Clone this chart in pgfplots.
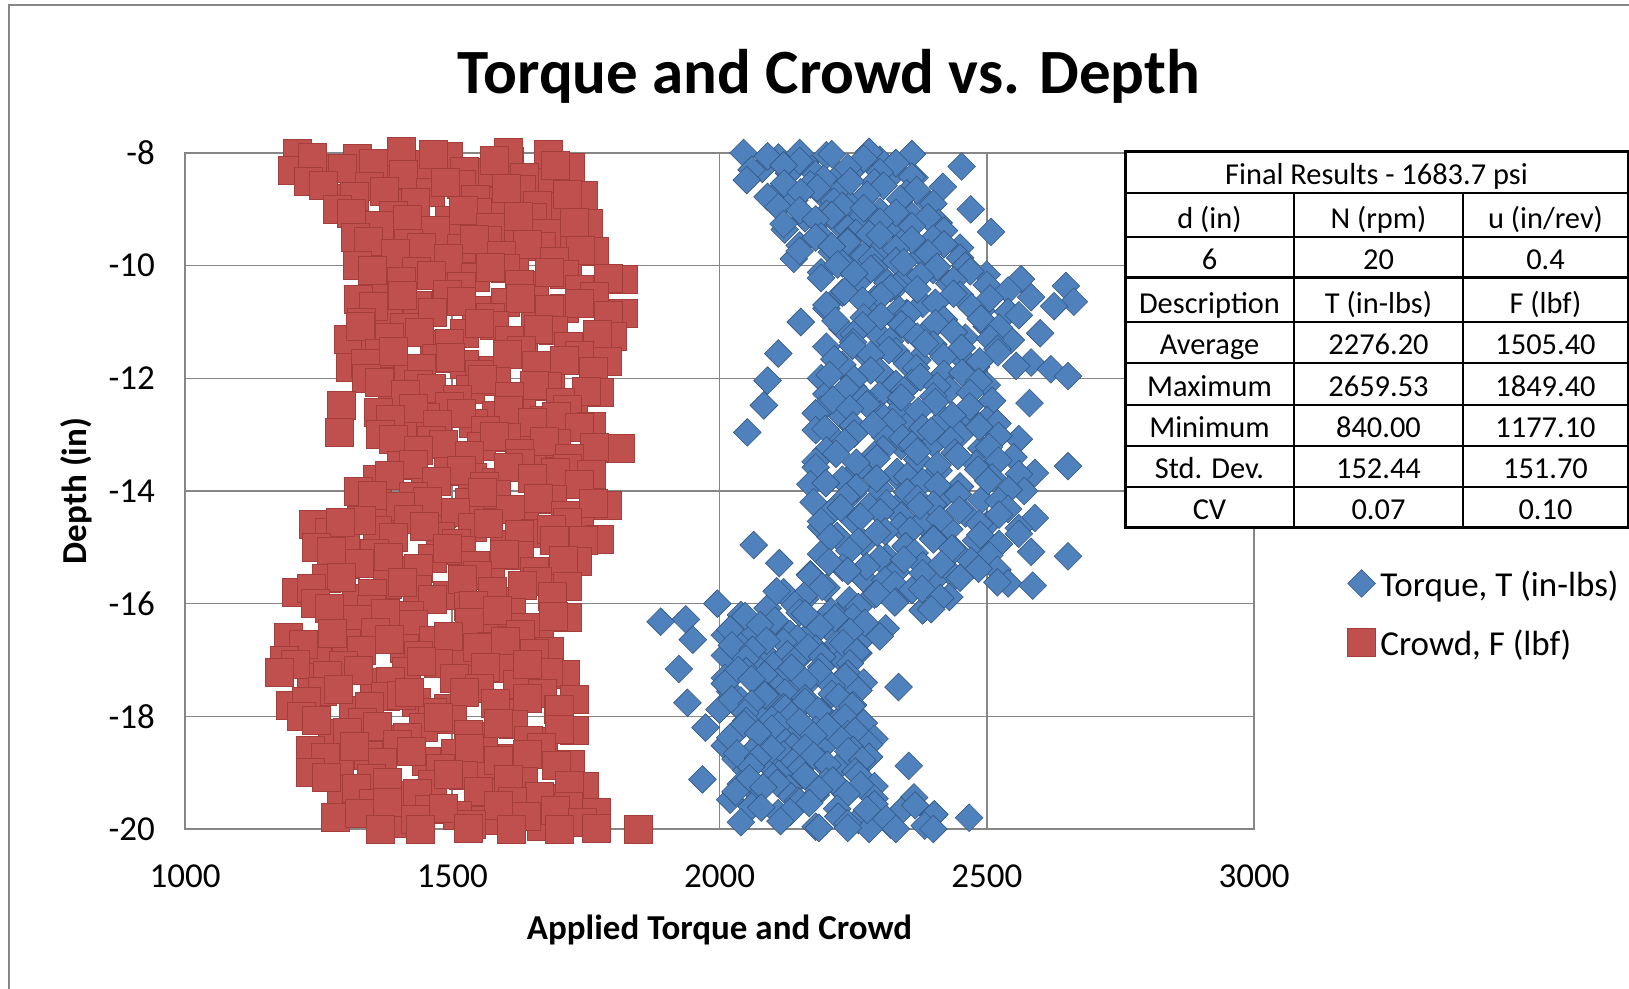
\documentclass[border=0pt]{standalone}
\usepackage{fontspec}
\setmainfont{Carlito}
\usepackage{pgfplots}
\usepackage{pgfplotstable}
\pgfplotsset{compat=1.18}
\definecolor{gridgray}{RGB}{134,134,134}
\definecolor{tblue}{RGB}{79,129,189}
\definecolor{tbluedk}{RGB}{52,88,132}
\definecolor{cred}{RGB}{192,80,77}
\definecolor{creddk}{RGB}{165,62,59}

% Crowd F (lbf) vs depth (in)
\pgfplotstableread[row sep=\\]{
x y\\
1210 -8.00\\ 1493 -8.05\\ 1323 -8.10\\ 1607 -8.15\\ 1437 -8.20\\ 1720 -8.25\\ 1200 -8.30\\ 1550 -8.35\\ 1380 -8.40\\ 1663 -8.45\\
1405 -7.97\\ 1605 -7.98\\ 1680 -8.03\\ 1267 -8.28\\
1465 -8.025\\ 1238 -8.075\\ 1578 -8.125\\ 1352 -8.175\\ 1692 -8.225\\ 1295 -8.275\\ 1522 -8.325\\ 1408 -8.375\\ 1635 -8.425\\
1230 -8.50\\ 1516 -8.55\\ 1344 -8.60\\ 1630 -8.65\\ 1459 -8.70\\ 1745 -8.75\\ 1287 -8.80\\ 1573 -8.85\\ 1402 -8.90\\ 1688 -8.95\\
1487 -8.525\\ 1258 -8.575\\ 1601 -8.625\\ 1373 -8.675\\ 1716 -8.725\\ 1316 -8.775\\ 1544 -8.825\\ 1430 -8.875\\ 1659 -8.925\\
1285 -9.00\\ 1546 -9.05\\ 1389 -9.10\\ 1650 -9.15\\ 1494 -9.20\\ 1755 -9.25\\ 1337 -9.30\\ 1598 -9.35\\ 1442 -9.40\\ 1703 -9.45\\
1520 -9.025\\ 1311 -9.075\\ 1624 -9.125\\ 1415 -9.175\\ 1729 -9.225\\ 1363 -9.275\\ 1572 -9.325\\ 1468 -9.375\\ 1676 -9.425\\
1318 -9.50\\ 1566 -9.55\\ 1417 -9.60\\ 1666 -9.65\\ 1517 -9.70\\ 1765 -9.75\\ 1368 -9.80\\ 1616 -9.85\\ 1467 -9.90\\ 1715 -9.95\\
1542 -9.525\\ 1343 -9.575\\ 1641 -9.625\\ 1442 -9.675\\ 1740 -9.725\\ 1393 -9.775\\ 1591 -9.825\\ 1492 -9.875\\ 1691 -9.925\\
1322 -10.00\\ 1599 -10.05\\ 1433 -10.10\\ 1709 -10.15\\ 1543 -10.20\\ 1820 -10.25\\ 1377 -10.30\\ 1654 -10.35\\ 1488 -10.40\\ 1765 -10.45\\
1571 -10.025\\ 1350 -10.075\\ 1682 -10.125\\ 1460 -10.175\\ 1792 -10.225\\ 1405 -10.275\\ 1626 -10.325\\ 1516 -10.375\\ 1737 -10.425\\
1490 -10.50\\ 1765 -10.55\\ 1325 -10.60\\ 1600 -10.65\\ 1435 -10.70\\ 1710 -10.75\\ 1545 -10.80\\ 1820 -10.85\\ 1380 -10.90\\ 1655 -10.95\\
1407 -10.525\\ 1627 -10.575\\ 1517 -10.625\\ 1737 -10.675\\ 1352 -10.725\\ 1682 -10.775\\ 1462 -10.825\\ 1792 -10.875\\ 1572 -10.925\\
1330 -11.00\\ 1578 -11.05\\ 1411 -11.10\\ 1689 -11.15\\ 1522 -11.20\\ 1800 -11.25\\ 1305 -11.30\\ 1633 -11.35\\ 1467 -11.40\\ 1744 -11.45\\ 1356 -11.42\\
1550 -11.025\\ 1328 -11.075\\ 1661 -11.125\\ 1439 -11.175\\ 1772 -11.225\\ 1383 -11.275\\ 1606 -11.325\\ 1494 -11.375\\ 1717 -11.425\\
1630 -11.50\\ 1363 -11.55\\ 1737 -11.60\\ 1470 -11.65\\ 1790 -11.70\\ 1523 -11.75\\ 1310 -11.80\\ 1577 -11.85\\ 1417 -11.90\\ 1683 -11.95\\
1390 -11.525\\ 1603 -11.575\\ 1497 -11.625\\ 1710 -11.675\\ 1337 -11.725\\ 1657 -11.775\\ 1443 -11.825\\ 1763 -11.875\\ 1550 -11.925\\
1340 -12.00\\ 1582 -12.05\\ 1437 -12.10\\ 1678 -12.15\\ 1533 -12.20\\ 1775 -12.25\\ 1388 -12.30\\ 1630 -12.35\\ 1485 -12.40\\ 1727 -12.45\\
1557 -12.025\\ 1364 -12.075\\ 1654 -12.125\\ 1461 -12.175\\ 1751 -12.225\\ 1412 -12.275\\ 1606 -12.325\\ 1509 -12.375\\ 1703 -12.425\\
1495 -12.50\\ 1716 -12.55\\ 1362 -12.60\\ 1583 -12.65\\ 1450 -12.70\\ 1672 -12.75\\ 1539 -12.80\\ 1760 -12.85\\ 1406 -12.90\\ 1627 -12.95\\
1428 -12.525\\ 1605 -12.575\\ 1517 -12.625\\ 1694 -12.675\\ 1384 -12.725\\ 1649 -12.775\\ 1472 -12.825\\ 1738 -12.875\\ 1561 -12.925\\
1292 -12.48\\ 1288 -12.95\\
1366 -13.00\\ 1601 -13.05\\ 1460 -13.10\\ 1695 -13.15\\ 1554 -13.20\\ 1814 -13.25\\ 1413 -13.30\\ 1648 -13.35\\ 1507 -13.40\\ 1742 -13.45\\
1578 -13.025\\ 1390 -13.075\\ 1672 -13.125\\ 1484 -13.175\\ 1766 -13.225\\ 1437 -13.275\\ 1625 -13.325\\ 1531 -13.375\\ 1719 -13.425\\
1627 -13.50\\ 1404 -13.55\\ 1716 -13.60\\ 1493 -13.65\\ 1760 -13.70\\ 1538 -13.75\\ 1360 -13.80\\ 1582 -13.85\\ 1449 -13.90\\ 1671 -13.95\\
1427 -13.525\\ 1604 -13.575\\ 1516 -13.625\\ 1693 -13.675\\ 1382 -13.725\\ 1649 -13.775\\ 1471 -13.825\\ 1738 -13.875\\ 1560 -13.925\\
1325 -14.00\\ 1583 -14.05\\ 1428 -14.10\\ 1687 -14.15\\ 1532 -14.20\\ 1790 -14.25\\ 1377 -14.30\\ 1635 -14.35\\ 1480 -14.40\\ 1738 -14.45\\
1557 -14.025\\ 1351 -14.075\\ 1661 -14.125\\ 1454 -14.175\\ 1764 -14.225\\ 1402 -14.275\\ 1609 -14.325\\ 1506 -14.375\\ 1712 -14.425\\
1418 -14.50\\ 1716 -14.55\\ 1240 -14.60\\ 1537 -14.65\\ 1359 -14.70\\ 1656 -14.75\\ 1478 -14.80\\ 1775 -14.85\\ 1299 -14.90\\ 1597 -14.95\\
1329 -14.525\\ 1567 -14.575\\ 1448 -14.625\\ 1686 -14.675\\ 1270 -14.725\\ 1626 -14.775\\ 1389 -14.825\\ 1745 -14.875\\ 1508 -14.925\\
1290 -14.55\\ 1690 -14.88\\
1246 -15.00\\ 1517 -15.05\\ 1354 -15.10\\ 1626 -15.15\\ 1463 -15.20\\ 1734 -15.25\\ 1300 -15.30\\ 1571 -15.35\\ 1409 -15.40\\ 1680 -15.45\\
1490 -15.025\\ 1273 -15.075\\ 1598 -15.125\\ 1381 -15.175\\ 1707 -15.225\\ 1327 -15.275\\ 1544 -15.325\\ 1436 -15.375\\ 1653 -15.425\\
1546 -15.50\\ 1265 -15.55\\ 1659 -15.60\\ 1378 -15.65\\ 1715 -15.70\\ 1434 -15.75\\ 1209 -15.80\\ 1490 -15.85\\ 1321 -15.90\\ 1603 -15.95\\
1293 -15.525\\ 1518 -15.575\\ 1406 -15.625\\ 1631 -15.675\\ 1237 -15.725\\ 1574 -15.775\\ 1350 -15.825\\ 1687 -15.875\\ 1462 -15.925\\
1244 -16.00\\ 1530 -16.05\\ 1349 -16.10\\ 1610 -16.15\\ 1420 -16.20\\ 1715 -16.25\\ 1296 -16.30\\ 1558 -16.35\\ 1401 -16.40\\ 1663 -16.45\\
1540 -16.025\\ 1270 -16.075\\ 1584 -16.125\\ 1375 -16.175\\ 1689 -16.225\\ 1322 -16.275\\ 1532 -16.325\\ 1427 -16.375\\ 1637 -16.425\\
1356 -16.50\\ 1627 -16.55\\ 1194 -16.60\\ 1465 -16.65\\ 1302 -16.70\\ 1573 -16.75\\ 1410 -16.80\\ 1681 -16.85\\ 1248 -16.90\\ 1519 -16.95\\
1275 -16.525\\ 1492 -16.575\\ 1383 -16.625\\ 1600 -16.675\\ 1221 -16.725\\ 1546 -16.775\\ 1329 -16.825\\ 1654 -16.875\\ 1437 -16.925\\
1185 -17.00\\ 1474 -17.05\\ 1296 -17.10\\ 1592 -17.15\\ 1414 -17.20\\ 1711 -17.25\\ 1236 -17.30\\ 1533 -17.35\\ 1355 -17.40\\ 1652 -17.45\\
1443 -17.025\\ 1207 -17.075\\ 1562 -17.125\\ 1325 -17.175\\ 1680 -17.225\\ 1266 -17.275\\ 1503 -17.325\\ 1384 -17.375\\ 1621 -17.425\\
1177 -17.22\\ 1640 -17.08\\
1551 -17.50\\ 1256 -17.55\\ 1669 -17.60\\ 1374 -17.65\\ 1728 -17.70\\ 1433 -17.75\\ 1197 -17.80\\ 1492 -17.85\\ 1315 -17.90\\ 1610 -17.95\\
1286 -17.525\\ 1522 -17.575\\ 1404 -17.625\\ 1640 -17.675\\ 1227 -17.725\\ 1581 -17.775\\ 1345 -17.825\\ 1699 -17.875\\ 1463 -17.925\\
1420 -17.58\\ 1700 -17.88\\
1218 -18.00\\ 1501 -18.05\\ 1331 -18.10\\ 1615 -18.15\\ 1445 -18.20\\ 1728 -18.25\\ 1275 -18.30\\ 1558 -18.35\\ 1388 -18.40\\ 1671 -18.45\\
1473 -18.025\\ 1246 -18.075\\ 1586 -18.125\\ 1360 -18.175\\ 1700 -18.225\\ 1303 -18.275\\ 1530 -18.325\\ 1416 -18.375\\ 1643 -18.425\\
1397 -18.50\\ 1667 -18.55\\ 1235 -18.60\\ 1505 -18.65\\ 1343 -18.70\\ 1613 -18.75\\ 1451 -18.80\\ 1721 -18.85\\ 1289 -18.90\\ 1559 -18.95\\
1316 -18.525\\ 1532 -18.575\\ 1424 -18.625\\ 1640 -18.675\\ 1262 -18.725\\ 1586 -18.775\\ 1370 -18.825\\ 1694 -18.875\\ 1478 -18.925\\
1235 -19.00\\ 1520 -19.05\\ 1349 -19.10\\ 1633 -19.15\\ 1463 -19.20\\ 1747 -19.25\\ 1292 -19.30\\ 1576 -19.35\\ 1406 -19.40\\ 1690 -19.45\\
1492 -19.025\\ 1264 -19.075\\ 1605 -19.125\\ 1378 -19.175\\ 1719 -19.225\\ 1321 -19.275\\ 1548 -19.325\\ 1435 -19.375\\ 1662 -19.425\\
1613 -19.50\\ 1352 -19.55\\ 1718 -19.60\\ 1457 -19.65\\ 1770 -19.70\\ 1509 -19.75\\ 1281 -19.80\\ 1561 -19.85\\ 1404 -19.90\\ 1666 -19.95\\
1378 -19.525\\ 1587 -19.575\\ 1483 -19.625\\ 1692 -19.675\\ 1326 -19.725\\ 1639 -19.775\\ 1430 -19.825\\ 1744 -19.875\\ 1535 -19.925\\
1365 -20.00\\ 1440 -20.00\\ 1530 -19.98\\ 1610 -20.00\\ 1700 -20.00\\ 1770 -19.98\\ 1849 -20.00\\
}\crowd

% Torque T (in-lbs) vs depth (in)
\pgfplotstableread[row sep=\\]{
x y\\
2045 -8.00\\ 2200 -8.04\\ 2110 -8.08\\ 2300 -8.12\\ 2160 -8.16\\ 2260 -8.20\\ 2453 -8.24\\ 2080 -8.28\\ 2330 -8.32\\ 2130 -8.36\\ 2225 -8.40\\ 2365 -8.44\\
2150 -8.00\\ 2280 -7.98\\ 2360 -8.02\\
2210 -8.02\\ 2090 -8.06\\ 2270 -8.10\\ 2150 -8.14\\ 2330 -8.18\\ 2120 -8.22\\ 2240 -8.26\\ 2060 -8.30\\ 2300 -8.34\\ 2180 -8.38\\ 2360 -8.42\\ 2195 -8.46\\
2051 -8.48\\ 2290 -8.52\\ 2170 -8.56\\ 2418 -8.60\\ 2230 -8.64\\ 2110 -8.68\\ 2350 -8.72\\ 2195 -8.76\\ 2270 -8.80\\ 2140 -8.84\\ 2390 -8.88\\ 2245 -8.92\\
2245 -8.50\\ 2121 -8.54\\ 2307 -8.58\\ 2183 -8.62\\ 2369 -8.66\\ 2152 -8.70\\ 2276 -8.74\\ 2090 -8.78\\ 2338 -8.82\\ 2214 -8.86\\ 2400 -8.90\\ 2230 -8.94\\
2110 -8.96\\ 2470 -9.00\\ 2300 -9.04\\ 2200 -9.08\\ 2360 -9.12\\ 2160 -9.16\\ 2260 -9.20\\ 2410 -9.24\\ 2225 -9.28\\ 2330 -9.32\\ 2122 -9.36\\ 2508 -9.40\\
2270 -8.98\\ 2150 -9.02\\ 2330 -9.06\\ 2210 -9.10\\ 2390 -9.14\\ 2180 -9.18\\ 2300 -9.22\\ 2120 -9.26\\ 2360 -9.30\\ 2240 -9.34\\ 2420 -9.38\\ 2255 -9.42\\
2280 -9.44\\ 2190 -9.48\\ 2400 -9.52\\ 2240 -9.56\\ 2340 -9.60\\ 2150 -9.64\\ 2450 -9.68\\ 2300 -9.72\\ 2210 -9.76\\ 2380 -9.80\\ 2260 -9.84\\ 2139 -9.88\\
2300 -9.46\\ 2180 -9.50\\ 2360 -9.54\\ 2240 -9.58\\ 2420 -9.62\\ 2210 -9.66\\ 2330 -9.70\\ 2150 -9.74\\ 2390 -9.78\\ 2270 -9.82\\ 2450 -9.86\\ 2285 -9.90\\
2330 -9.92\\ 2230 -9.96\\ 2460 -10.00\\ 2290 -10.04\\ 2400 -10.08\\ 2190 -10.12\\ 2500 -10.16\\ 2350 -10.20\\ 2564 -10.24\\ 2260 -10.28\\ 2430 -10.32\\ 2648 -10.36\\
2345 -9.94\\ 2221 -9.98\\ 2407 -10.02\\ 2283 -10.06\\ 2469 -10.10\\ 2252 -10.14\\ 2376 -10.18\\ 2190 -10.22\\ 2438 -10.26\\ 2314 -10.30\\ 2500 -10.34\\ 2330 -10.38\\
2320 -10.40\\ 2540 -10.44\\ 2230 -10.48\\ 2450 -10.52\\ 2583 -10.56\\ 2290 -10.60\\ 2663 -10.64\\ 2380 -10.68\\ 2626 -10.72\\ 2200 -10.76\\ 2490 -10.80\\ 2350 -10.84\\
2370 -10.42\\ 2234 -10.46\\ 2438 -10.50\\ 2302 -10.54\\ 2506 -10.58\\ 2268 -10.62\\ 2404 -10.66\\ 2200 -10.70\\ 2472 -10.74\\ 2336 -10.78\\ 2540 -10.82\\ 2353 -10.86\\
2560 -10.88\\ 2270 -10.92\\ 2420 -10.96\\ 2152 -11.00\\ 2340 -11.04\\ 2500 -11.08\\ 2230 -11.12\\ 2390 -11.16\\ 2600 -11.20\\ 2300 -11.24\\ 2460 -11.28\\ 2545 -11.32\\
2302 -10.90\\ 2489 -10.94\\ 2217 -10.98\\ 2404 -11.02\\ 2268 -11.06\\ 2523 -11.10\\ 2353 -11.14\\ 2438 -11.18\\ 2251 -11.22\\ 2370 -11.26\\ 2506 -11.30\\ 2319 -11.34\\
2250 -11.36\\ 2400 -11.40\\ 2200 -11.44\\ 2520 -11.48\\ 2330 -11.52\\ 2110 -11.56\\ 2450 -11.60\\ 2280 -11.64\\ 2370 -11.68\\ 2583 -11.72\\ 2230 -11.76\\ 2480 -11.80\\
2385 -11.38\\ 2249 -11.42\\ 2453 -11.46\\ 2317 -11.50\\ 2521 -11.54\\ 2283 -11.58\\ 2419 -11.62\\ 2215 -11.66\\ 2487 -11.70\\ 2351 -11.74\\ 2555 -11.78\\ 2368 -11.82\\
2620 -11.84\\ 2300 -11.88\\ 2420 -11.92\\ 2652 -11.96\\ 2190 -12.00\\ 2090 -12.04\\ 2360 -12.08\\ 2500 -12.12\\ 2250 -12.16\\ 2430 -12.20\\ 2320 -12.24\\ 2200 -12.28\\
2283 -11.86\\ 2454 -11.90\\ 2206 -11.94\\ 2376 -11.98\\ 2252 -12.02\\ 2485 -12.06\\ 2330 -12.10\\ 2407 -12.14\\ 2237 -12.18\\ 2345 -12.22\\ 2469 -12.26\\ 2299 -12.30\\
2400 -12.32\\ 2270 -12.36\\ 2510 -12.40\\ 2580 -12.44\\ 2083 -12.48\\ 2340 -12.52\\ 2190 -12.56\\ 2460 -12.60\\ 2300 -12.64\\ 2230 -12.68\\ 2420 -12.72\\ 2360 -12.76\\
2340 -12.34\\ 2212 -12.38\\ 2404 -12.42\\ 2276 -12.46\\ 2468 -12.50\\ 2244 -12.54\\ 2372 -12.58\\ 2180 -12.62\\ 2436 -12.66\\ 2308 -12.70\\ 2500 -12.74\\ 2324 -12.78\\
2520 -12.80\\ 2250 -12.84\\ 2380 -12.88\\ 2180 -12.92\\ 2052 -12.96\\ 2450 -13.00\\ 2310 -13.04\\ 2560 -13.08\\ 2220 -13.12\\ 2400 -13.16\\ 2340 -13.20\\ 2490 -13.24\\
2288 -12.82\\ 2486 -12.86\\ 2198 -12.90\\ 2396 -12.94\\ 2252 -12.98\\ 2522 -13.02\\ 2342 -13.06\\ 2432 -13.10\\ 2234 -13.14\\ 2360 -13.18\\ 2504 -13.22\\ 2306 -13.26\\
2200 -13.28\\ 2440 -13.32\\ 2290 -13.36\\ 2550 -13.40\\ 2370 -13.44\\ 2180 -13.48\\ 2480 -13.52\\ 2652 -13.56\\ 2260 -13.60\\ 2410 -13.64\\ 2590 -13.68\\ 2330 -13.72\\
2370 -13.30\\ 2218 -13.34\\ 2446 -13.38\\ 2294 -13.42\\ 2522 -13.46\\ 2256 -13.50\\ 2408 -13.54\\ 2180 -13.58\\ 2484 -13.62\\ 2332 -13.66\\ 2560 -13.70\\ 2351 -13.74\\
2510 -13.76\\ 2230 -13.80\\ 2380 -13.84\\ 2170 -13.88\\ 2450 -13.92\\ 2300 -13.96\\ 2570 -14.00\\ 2250 -14.04\\ 2420 -14.08\\ 2350 -14.12\\ 2490 -14.16\\ 2176 -14.20\\
2294 -13.78\\ 2503 -13.82\\ 2199 -13.86\\ 2408 -13.90\\ 2256 -13.94\\ 2541 -13.98\\ 2351 -14.02\\ 2446 -14.06\\ 2237 -14.10\\ 2370 -14.14\\ 2522 -14.18\\ 2313 -14.22\\
2400 -14.24\\ 2280 -14.28\\ 2540 -14.32\\ 2210 -14.36\\ 2460 -14.40\\ 2340 -14.44\\ 2590 -14.48\\ 2250 -14.52\\ 2380 -14.56\\ 2500 -14.60\\ 2190 -14.64\\ 2430 -14.68\\
2375 -14.26\\ 2227 -14.30\\ 2449 -14.34\\ 2301 -14.38\\ 2523 -14.42\\ 2264 -14.46\\ 2412 -14.50\\ 2190 -14.54\\ 2486 -14.58\\ 2338 -14.62\\ 2560 -14.66\\ 2357 -14.70\\
2310 -14.72\\ 2560 -14.76\\ 2220 -14.80\\ 2400 -14.84\\ 2480 -14.88\\ 2270 -14.92\\ 2064 -14.96\\ 2350 -15.00\\ 2440 -15.04\\ 2583 -15.08\\ 2190 -15.12\\ 2652 -15.16\\
2295 -14.74\\ 2488 -14.78\\ 2208 -14.82\\ 2400 -14.86\\ 2260 -14.90\\ 2523 -14.94\\ 2348 -14.98\\ 2435 -15.02\\ 2243 -15.06\\ 2365 -15.10\\ 2505 -15.14\\ 2313 -15.18\\
2300 -15.20\\ 2470 -15.24\\ 2112 -15.28\\ 2380 -15.32\\ 2230 -15.36\\ 2520 -15.40\\ 2330 -15.44\\ 2170 -15.48\\ 2440 -15.52\\ 2270 -15.56\\ 2400 -15.60\\ 2540 -15.64\\
2345 -15.22\\ 2205 -15.26\\ 2415 -15.30\\ 2275 -15.34\\ 2485 -15.38\\ 2240 -15.42\\ 2380 -15.46\\ 2170 -15.50\\ 2450 -15.54\\ 2310 -15.58\\ 2520 -15.62\\ 2328 -15.66\\
2586 -15.68\\ 2200 -15.72\\ 2360 -15.76\\ 2120 -15.80\\ 2290 -15.84\\ 2430 -15.88\\ 2160 -15.92\\ 2330 -15.96\\ 1996 -16.00\\ 2240 -16.04\\ 2090 -16.08\\ 2380 -16.12\\
2192 -15.70\\ 2379 -15.74\\ 2107 -15.78\\ 2294 -15.82\\ 2158 -15.86\\ 2413 -15.90\\ 2243 -15.94\\ 2328 -15.98\\ 2141 -16.02\\ 2260 -16.06\\ 2396 -16.10\\ 2209 -16.14\\
2150 -16.16\\ 2040 -16.20\\ 2250 -16.24\\ 1937 -16.28\\ 1890 -16.32\\ 2100 -16.36\\ 2200 -16.40\\ 2311 -16.44\\ 2060 -16.48\\ 2170 -16.52\\ 2010 -16.56\\ 2270 -16.60\\
2160 -16.18\\ 2048 -16.22\\ 2216 -16.26\\ 2104 -16.30\\ 2272 -16.34\\ 2076 -16.38\\ 2188 -16.42\\ 2020 -16.46\\ 2244 -16.50\\ 2132 -16.54\\ 2300 -16.58\\ 2146 -16.62\\
1950 -16.64\\ 2120 -16.68\\ 2220 -16.72\\ 2040 -16.76\\ 2180 -16.80\\ 2080 -16.84\\ 2260 -16.88\\ 2010 -16.92\\ 2150 -16.96\\ 2230 -17.00\\ 2060 -17.04\\ 2110 -17.08\\
2088 -16.66\\ 2231 -16.70\\ 2023 -16.74\\ 2166 -16.78\\ 2062 -16.82\\ 2257 -16.86\\ 2127 -16.90\\ 2192 -16.94\\ 2049 -16.98\\ 2140 -17.02\\ 2244 -17.06\\ 2101 -17.10\\
2190 -17.12\\ 1924 -17.16\\ 2050 -17.20\\ 2240 -17.24\\ 2120 -17.28\\ 2010 -17.32\\ 2170 -17.36\\ 2270 -17.40\\ 2080 -17.44\\ 2335 -17.48\\ 2140 -17.52\\ 2020 -17.56\\
2135 -17.14\\ 2035 -17.18\\ 2185 -17.22\\ 2085 -17.26\\ 2235 -17.30\\ 2060 -17.34\\ 2160 -17.38\\ 2010 -17.42\\ 2210 -17.46\\ 2110 -17.50\\ 2260 -17.54\\ 2123 -17.58\\
2210 -17.60\\ 2090 -17.64\\ 2160 -17.68\\ 2040 -17.72\\ 1940 -17.76\\ 2250 -17.80\\ 2120 -17.84\\ 2000 -17.88\\ 2190 -17.92\\ 2070 -17.96\\ 2230 -18.00\\ 2140 -18.04\\
2085 -17.62\\ 2223 -17.66\\ 2023 -17.70\\ 2160 -17.74\\ 2060 -17.78\\ 2248 -17.82\\ 2123 -17.86\\ 2185 -17.90\\ 2048 -17.94\\ 2135 -17.98\\ 2235 -18.02\\ 2098 -18.06\\
2050 -18.08\\ 2270 -18.12\\ 2110 -18.16\\ 1974 -18.20\\ 2180 -18.24\\ 2030 -18.28\\ 2240 -18.32\\ 2140 -18.36\\ 2290 -18.40\\ 2080 -18.44\\ 2200 -18.48\\ 2010 -18.52\\
2150 -18.10\\ 2046 -18.14\\ 2202 -18.18\\ 2098 -18.22\\ 2254 -18.26\\ 2072 -18.30\\ 2176 -18.34\\ 2020 -18.38\\ 2228 -18.42\\ 2124 -18.46\\ 2280 -18.50\\ 2137 -18.54\\
2160 -18.56\\ 2250 -18.60\\ 2060 -18.64\\ 2120 -18.68\\ 2280 -18.72\\ 2030 -18.76\\ 2190 -18.80\\ 2090 -18.84\\ 2354 -18.88\\ 2220 -18.92\\ 2050 -18.96\\ 2150 -19.00\\
2098 -18.58\\ 2241 -18.62\\ 2033 -18.66\\ 2176 -18.70\\ 2072 -18.74\\ 2267 -18.78\\ 2137 -18.82\\ 2202 -18.86\\ 2059 -18.90\\ 2150 -18.94\\ 2254 -18.98\\ 2111 -19.02\\
2260 -19.04\\ 2100 -19.08\\ 1968 -19.12\\ 2200 -19.16\\ 2040 -19.20\\ 2290 -19.24\\ 2130 -19.28\\ 2230 -19.32\\ 2070 -19.36\\ 2180 -19.40\\ 2364 -19.44\\ 2020 -19.48\\
2160 -19.06\\ 2056 -19.10\\ 2212 -19.14\\ 2108 -19.18\\ 2264 -19.22\\ 2082 -19.26\\ 2186 -19.30\\ 2030 -19.34\\ 2238 -19.38\\ 2134 -19.42\\ 2290 -19.46\\ 2147 -19.50\\
2150 -19.52\\ 2290 -19.56\\ 2060 -19.60\\ 2220 -19.64\\ 2340 -19.68\\ 2110 -19.72\\ 2400 -19.76\\ 2467 -19.80\\ 2260 -19.84\\ 2040 -19.88\\ 2320 -19.92\\ 2180 -19.96\\ 2280 -20.00\\
2168 -19.54\\ 2366 -19.58\\ 2078 -19.62\\ 2276 -19.66\\ 2132 -19.70\\ 2402 -19.74\\ 2222 -19.78\\ 2312 -19.82\\ 2114 -19.86\\ 2240 -19.90\\ 2384 -19.94\\ 2186 -19.98\\
2330 -20.00\\ 2400 -20.00\\ 2240 -19.98\\
}\torque

\begin{document}
\begin{tikzpicture}[x=1pt,y=1pt]
\path[use as bounding box] (0,0) rectangle (814.5,494.5);
\draw[gridgray, line width=0.75pt] (4.5,0) -- (4.5,492) -- (814.5,492);
\node[anchor=base, font=\fontsize{31.5}{36}\selectfont\bfseries] at (414.5,447.75) {Torque and Crowd vs. Depth};
\begin{axis}[
  at={(92.5pt,80pt)}, anchor=south west,
  width=534.5pt, height=338pt, scale only axis,
  xmin=1000, xmax=3000, ymin=-20, ymax=-8,
  xtick={1000,1500,2000,2500,3000},
  xticklabels={1000,1500,2000,2500,3000},
  ytick={-20,-18,-16,-14,-12,-10,-8},
  yticklabels={-20,-18,-16,-14,-12,-10,-8},
  major tick length=0pt,
  grid=major,
  grid style={gridgray, line width=0.75pt},
  axis line style={gridgray, line width=0.75pt},
  tick label style={font=\fontsize{17.5}{21}\selectfont},
  xticklabel style={yshift=-14.6pt},
  yticklabel style={xshift=-11.5pt},
  clip=false,
  xlabel={Applied Torque and Crowd},
  ylabel={Depth (in)},
  xlabel style={at={(axis description cs:0.5,-0.1642)}, anchor=base, font=\fontsize{17.5}{21}\selectfont\bfseries},
  ylabel style={at={(axis description cs:-0.0917,0.5)}, anchor=base, font=\fontsize{17.5}{21}\selectfont\bfseries},
  legend style={at={(axis description cs:1.0872,0.3843)}, anchor=north west, draw=none, fill=none, inner sep=0pt,
    font=\fontsize{17.5}{21}\selectfont, row sep=14.4pt, nodes={inner sep=0pt, inner xsep=2.4pt}},
  legend cell align=left,
  legend image code/.code={\draw[#1] plot coordinates {(0pt,1pt)};},
]
\addplot[only marks, mark=square*, mark size=4.9pt,
  mark options={rotate=45, fill=tblue, draw=tbluedk, line width=0.3pt}] table[x=x,y=y] {\torque};
\addlegendentry{Torque, T (in-lbs)}
\addplot[only marks, mark=square*, mark size=7pt,
  mark options={fill=cred, draw=creddk, line width=0.3pt}] table[x=x,y=y] {\crowd};
\addlegendentry{Crowd, F (lbf)}
\end{axis}
% results table
\fill[white] (562.5,230.5) rectangle (814,418.5);
\begin{scope}[every node/.style={anchor=base, font=\fontsize{15.2}{18}\selectfont}]
\node at (688.25,402) {Final Results - 1683.7 psi};
\node at (604.75,380) {d (in)};       \node at (689.25,380) {N (rpm)};    \node at (772.75,380) {u (in/rev)};
\node at (604.75,359.5) {6};          \node at (689.25,359.5) {20};       \node at (772.75,359.5) {0.4};
\node at (604.75,337.5) {Description};\node at (689.25,337.5) {T (in-lbs)};\node at (772.75,337.5) {F (lbf)};
\node at (604.75,317) {Average};      \node at (689.25,317) {2276.20};    \node at (772.75,317) {1505.40};
\node at (604.75,296) {Maximum};      \node at (689.25,296) {2659.53};    \node at (772.75,296) {1849.40};
\node at (604.75,275.5) {Minimum};    \node at (689.25,275.5) {840.00};   \node at (772.75,275.5) {1177.10};
\node at (604.75,255) {Std. Dev.};    \node at (689.25,255) {152.44};     \node at (772.75,255) {151.70};
\node at (604.75,234.5) {CV};         \node at (689.25,234.5) {0.07};     \node at (772.75,234.5) {0.10};
\end{scope}
\foreach \yy in {376,333.5,313,292,271.5,251}{\draw[black, line width=0.8pt] (562.5,\yy) -- (814,\yy);}
\draw[black, line width=1pt] (562.5,398) -- (814,398);
\draw[black, line width=1.5pt] (562.5,355.5) -- (814,355.5);
\draw[black, line width=0.8pt] (647,398) -- (647,230.5);
\draw[black, line width=0.8pt] (731.5,398) -- (731.5,230.5);
\draw[black, line width=1.5pt] (562.5,230.5) rectangle (814,418.5);
\end{tikzpicture}
\end{document}
